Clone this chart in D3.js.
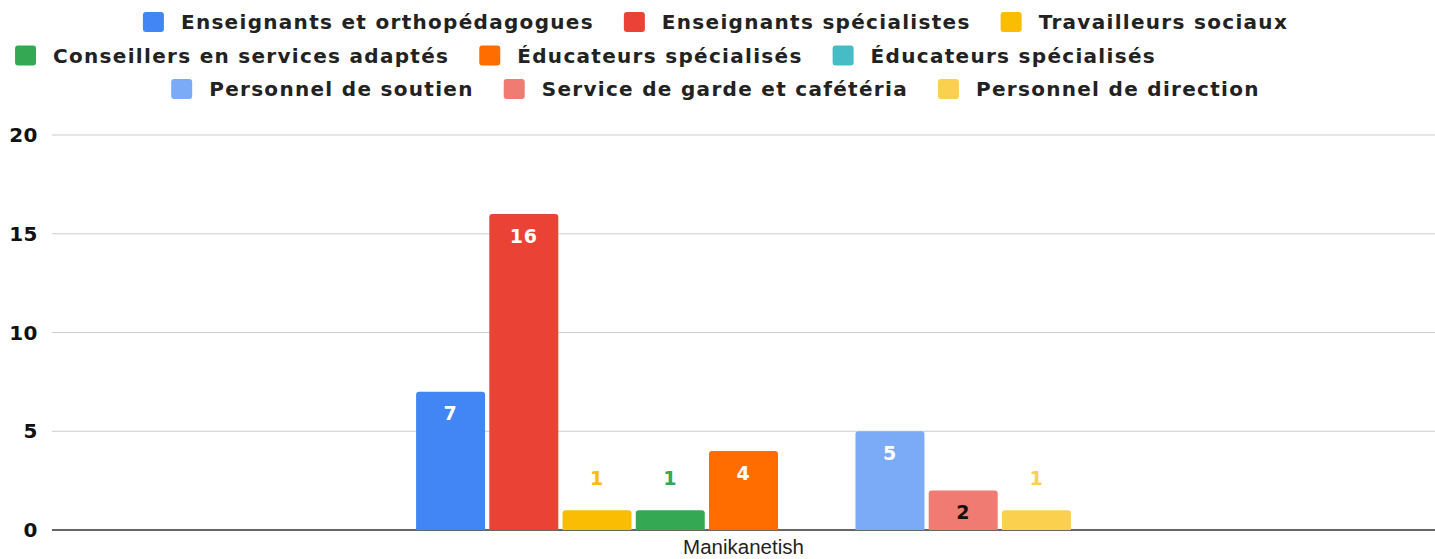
<!DOCTYPE html>
<html>
<head>
  <meta charset="utf-8">
  <style>
    body { margin: 0; background: #fff; }
    svg { display: block; }
    .legend text { font-family: "DejaVu Sans", Verdana, sans-serif; font-weight: bold; font-size: 20px; letter-spacing: 1.3px; fill: #222; }
    .ytick text { font-family: "DejaVu Sans", Verdana, sans-serif; font-weight: bold; font-size: 20px; letter-spacing: 0.5px; fill: #111; }
    .xlabel { font-family: "Liberation Sans", Arial, sans-serif; font-size: 20.5px; fill: #222; }
    .val { font-family: "DejaVu Sans", Verdana, sans-serif; font-weight: bold; font-size: 19px; letter-spacing: 0.8px; }
  </style>
</head>
<body>
  <script src="https://d3js.org/d3.v7.min.js"></script>
  <script>
    // chart data
    const categories = ['Manikanetish'];
    const seriesNames = [
      'Enseignants et orthopédagogues', 'Enseignants spécialistes', 'Travailleurs sociaux',
      'Conseillers en services adaptés', 'Éducateurs spécialisés', 'Éducateurs spécialisés',
      'Personnel de soutien', 'Service de garde et cafétéria', 'Personnel de direction'
    ];
    const seriesValues = [7, 16, 1, 1, 4, 0, 5, 2, 1];
    const yTicks = [0, 5, 10, 15, 20];

    const colors = ['#4285f4', '#ea4335', '#fbbc04', '#34a853', '#ff6d01', '#46bdc6', '#7baaf7', '#f07b72', '#fcd04f'];
    const labelInside = ['#fff', '#fff', '#fff', '#fff', '#fff', '#fff', '#fff', '#111', '#fff'];
    const legendRows = [[0, 1, 2], [3, 4, 5], [6, 7, 8]];
    const legendShift = [0, -130, 0]; // row 2 sits left of centre in the original

    const width = 1435, height = 559;
    const margin = { top: 135, right: 0, bottom: 29, left: 52 };

    const svg = d3.select('body').append('svg')
      .attr('width', width)
      .attr('height', height);

    // legend
    const legend = svg.append('g').attr('class', 'legend');
    legendRows.forEach((row, ri) => {
      const cy = 22 + ri * 33.5;
      const g = legend.append('g');
      let x = 0;
      row.forEach((si, k) => {
        const item = g.append('g').attr('transform', `translate(${x},0)`);
        item.append('rect')
          .attr('x', 0).attr('y', cy - 10)
          .attr('width', 21).attr('height', 20)
          .attr('rx', 3)
          .attr('fill', colors[si]);
        const t = item.append('text')
          .attr('x', 38).attr('y', cy)
          .attr('dy', '0.35em')
          .text(seriesNames[si]);
        x += 38 + t.node().getComputedTextLength() + 30;
      });
      const total = x - 30;
      g.attr('transform', `translate(${(width - total) / 2 - 2 + legendShift[ri]},0)`);
    });

    const y = d3.scaleLinear()
      .domain([0, 20])
      .range([height - margin.bottom, margin.top]);

    const x0 = d3.scaleBand()
      .domain(categories)
      .range([margin.left, width - margin.right])
      .paddingInner(0)
      .paddingOuter(0.556);

    const x1 = d3.scaleBand()
      .domain(d3.range(seriesNames.length))
      .range([0, x0.bandwidth()])
      .paddingInner(0.058);

    // grid
    const grid = svg.append('g').attr('class', 'ytick');
    yTicks.forEach(v => {
      grid.append('line')
        .attr('x1', margin.left).attr('x2', width - margin.right)
        .attr('y1', y(v)).attr('y2', y(v))
        .attr('stroke', v === 0 ? '#333' : '#ccc')
        .attr('stroke-width', v === 0 ? 1.5 : 1);
      grid.append('text')
        .attr('x', 38).attr('y', y(v))
        .attr('dy', '0.35em')
        .attr('text-anchor', 'end')
        .text(v);
    });

    // rounded-top bar path
    function barPath(x, yTop, w, h, r) {
      r = Math.min(r, h, w / 2);
      return `M${x},${yTop + h}V${yTop + r}Q${x},${yTop} ${x + r},${yTop}H${x + w - r}Q${x + w},${yTop} ${x + w},${yTop + r}V${yTop + h}Z`;
    }

    const bars = svg.append('g');
    categories.forEach(cat => {
      seriesValues.forEach((v, i) => {
        if (!v) return;
        const bx = x0(cat) + x1(i);
        const bw = x1.bandwidth();
        bars.append('path')
          .attr('d', barPath(bx, y(v), bw, y(0) - y(v), 3))
          .attr('fill', colors[i]);
        const inside = y(0) - y(v) > 30;
        bars.append('text')
          .attr('class', 'val')
          .attr('x', bx + bw / 2)
          .attr('y', inside ? y(v) + 22 : y(v) - 32)
          .attr('dy', '0.35em')
          .attr('text-anchor', 'middle')
          .attr('fill', inside ? labelInside[i] : colors[i])
          .text(v);
      });
    });

    // x label
    svg.selectAll('.xlabel')
      .data(categories)
      .enter().append('text')
      .attr('class', 'xlabel')
      .attr('x', d => x0(d) + x0.bandwidth() / 2)
      .attr('y', height - 5)
      .attr('text-anchor', 'middle')
      .text(d => d);
  </script>
</body>
</html>
